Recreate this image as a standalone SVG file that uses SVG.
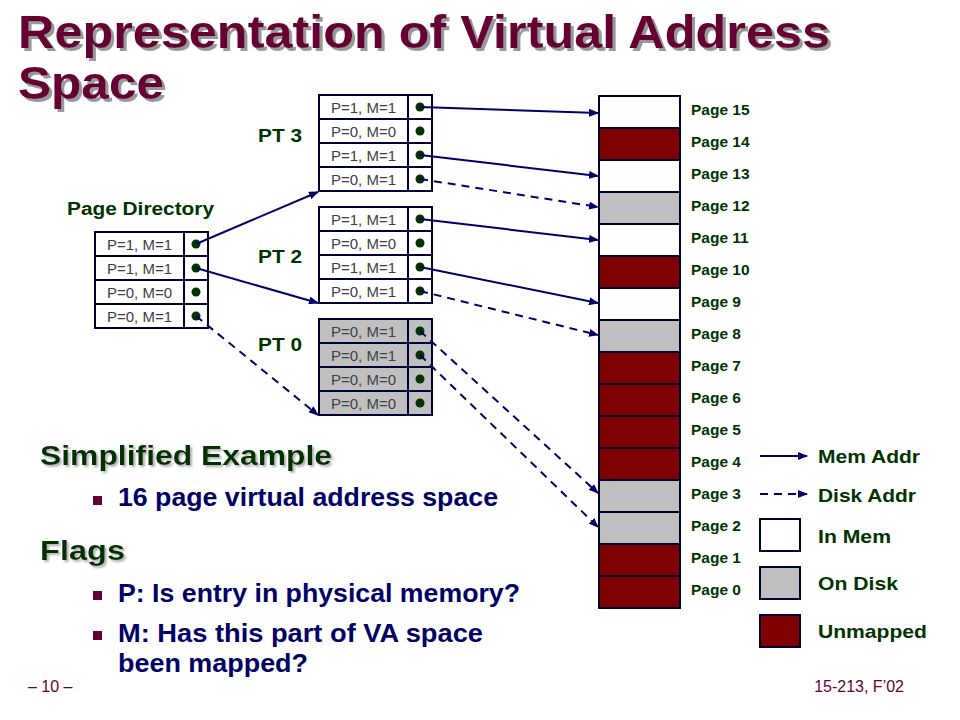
<svg xmlns="http://www.w3.org/2000/svg" width="960" height="720" viewBox="0 0 960 720">
<defs>
<style>
.title{font-family:"Liberation Sans",Arial,sans-serif;font-weight:bold;font-size:47px;fill:#660033}
.head{font-family:"Liberation Sans",Arial,sans-serif;font-weight:bold;font-size:27px;fill:#003300}
.bul{font-family:"Liberation Sans",Arial,sans-serif;font-weight:bold;font-size:25px;fill:#000066}
.lbl{font-family:"Liberation Sans",Arial,sans-serif;font-weight:bold;font-size:18px;fill:#003300}
.pg{font-family:"Liberation Sans",Arial,sans-serif;font-weight:bold;font-size:15.5px;fill:#003300}
.leg{font-family:"Liberation Sans",Arial,sans-serif;font-weight:bold;font-size:19px;fill:#003300}
.cell{font-family:"Liberation Sans",Arial,sans-serif;font-size:15px;fill:#404040;text-anchor:middle}
.foot{font-family:"Liberation Sans",Arial,sans-serif;font-size:16px;fill:#660033}
.box{fill:#ffffff;stroke:#000033;stroke-width:2}
.gbox{fill:#c0c0c0;stroke:#000033;stroke-width:2}
.rbox{fill:#800000;stroke:#000033;stroke-width:2}
.dot{fill:#003300}
.sq{fill:#660033}
.conn{fill:none;stroke:#000066;stroke-width:2}
.dash{stroke-dasharray:8 6}
</style>
<marker id="ah" markerWidth="10" markerHeight="8" refX="9" refY="4" orient="auto" markerUnits="userSpaceOnUse">
<path d="M0,0 L10,4 L0,8 z" fill="#000066"/>
</marker>
<filter id="sh" x="-5%" y="-20%" width="110%" height="140%">
<feDropShadow dx="3" dy="3" stdDeviation="0.6" flood-color="#999999" flood-opacity="1"/>
</filter>
<filter id="sh2" x="-5%" y="-20%" width="110%" height="140%">
<feDropShadow dx="2" dy="2" stdDeviation="0.8" flood-color="#b0b0b0" flood-opacity="1"/>
</filter>
</defs>
<rect width="960" height="720" fill="#ffffff"/>

<g id="title" filter="url(#sh)">
<text class="title" x="18" y="48" textLength="812" lengthAdjust="spacingAndGlyphs">Representation of Virtual Address</text>
<text class="title" x="18" y="99" textLength="146" lengthAdjust="spacingAndGlyphs">Space</text>
</g>

<g id="page-directory">
<text class="lbl" x="67" y="215" textLength="147" lengthAdjust="spacingAndGlyphs">Page Directory</text>
<rect class="box" x="95" y="232" width="113" height="96"/>
<line x1="95" y1="256" x2="208" y2="256" stroke="#000033" stroke-width="2"/>
<line x1="95" y1="280" x2="208" y2="280" stroke="#000033" stroke-width="2"/>
<line x1="95" y1="304" x2="208" y2="304" stroke="#000033" stroke-width="2"/>
<line x1="184" y1="232" x2="184" y2="328" stroke="#000033" stroke-width="2"/>
<text class="cell" x="139.5" y="249.5">P=1, M=1</text>
<text class="cell" x="139.5" y="273.5">P=1, M=1</text>
<text class="cell" x="139.5" y="297.5">P=0, M=0</text>
<text class="cell" x="139.5" y="321.5">P=0, M=1</text>
<circle class="dot" cx="196" cy="244" r="4.5"/>
<circle class="dot" cx="196" cy="268" r="4.5"/>
<circle class="dot" cx="196" cy="292" r="4.5"/>
<circle class="dot" cx="196" cy="316" r="4.5"/>
</g>

<g id="pt3">
<text class="lbl" x="258" y="142" textLength="44" lengthAdjust="spacingAndGlyphs">PT 3</text>
<rect class="box" x="319" y="95" width="113" height="96"/>
<line x1="319" y1="119" x2="432" y2="119" stroke="#000033" stroke-width="2"/>
<line x1="319" y1="143" x2="432" y2="143" stroke="#000033" stroke-width="2"/>
<line x1="319" y1="167" x2="432" y2="167" stroke="#000033" stroke-width="2"/>
<line x1="408" y1="95" x2="408" y2="191" stroke="#000033" stroke-width="2"/>
<text class="cell" x="363.5" y="112.5">P=1, M=1</text>
<text class="cell" x="363.5" y="136.5">P=0, M=0</text>
<text class="cell" x="363.5" y="160.5">P=1, M=1</text>
<text class="cell" x="363.5" y="184.5">P=0, M=1</text>
<circle class="dot" cx="420" cy="107" r="4.5"/>
<circle class="dot" cx="420" cy="131" r="4.5"/>
<circle class="dot" cx="420" cy="155" r="4.5"/>
<circle class="dot" cx="420" cy="179" r="4.5"/>
</g>

<g id="pt2">
<text class="lbl" x="258" y="263" textLength="44" lengthAdjust="spacingAndGlyphs">PT 2</text>
<rect class="box" x="319" y="207" width="113" height="96"/>
<line x1="319" y1="231" x2="432" y2="231" stroke="#000033" stroke-width="2"/>
<line x1="319" y1="255" x2="432" y2="255" stroke="#000033" stroke-width="2"/>
<line x1="319" y1="279" x2="432" y2="279" stroke="#000033" stroke-width="2"/>
<line x1="408" y1="207" x2="408" y2="303" stroke="#000033" stroke-width="2"/>
<text class="cell" x="363.5" y="224.5">P=1, M=1</text>
<text class="cell" x="363.5" y="248.5">P=0, M=0</text>
<text class="cell" x="363.5" y="272.5">P=1, M=1</text>
<text class="cell" x="363.5" y="296.5">P=0, M=1</text>
<circle class="dot" cx="420" cy="219" r="4.5"/>
<circle class="dot" cx="420" cy="243" r="4.5"/>
<circle class="dot" cx="420" cy="267" r="4.5"/>
<circle class="dot" cx="420" cy="291" r="4.5"/>
</g>

<g id="pt0">
<text class="lbl" x="258" y="351" textLength="44" lengthAdjust="spacingAndGlyphs">PT 0</text>
<rect class="gbox" x="319" y="319" width="113" height="96"/>
<line x1="319" y1="343" x2="432" y2="343" stroke="#000033" stroke-width="2"/>
<line x1="319" y1="367" x2="432" y2="367" stroke="#000033" stroke-width="2"/>
<line x1="319" y1="391" x2="432" y2="391" stroke="#000033" stroke-width="2"/>
<line x1="408" y1="319" x2="408" y2="415" stroke="#000033" stroke-width="2"/>
<text class="cell" x="363.5" y="336.5">P=0, M=1</text>
<text class="cell" x="363.5" y="360.5">P=0, M=1</text>
<text class="cell" x="363.5" y="384.5">P=0, M=0</text>
<text class="cell" x="363.5" y="408.5">P=0, M=0</text>
<circle class="dot" cx="420" cy="331" r="4.5"/>
<circle class="dot" cx="420" cy="355" r="4.5"/>
<circle class="dot" cx="420" cy="379" r="4.5"/>
<circle class="dot" cx="420" cy="403" r="4.5"/>
</g>

<g id="pages">
<rect class="box" x="599" y="96" width="81" height="32"/>
<rect class="rbox" x="599" y="128" width="81" height="32"/>
<rect class="box" x="599" y="160" width="81" height="32"/>
<rect class="gbox" x="599" y="192" width="81" height="32"/>
<rect class="box" x="599" y="224" width="81" height="32"/>
<rect class="rbox" x="599" y="256" width="81" height="32"/>
<rect class="box" x="599" y="288" width="81" height="32"/>
<rect class="gbox" x="599" y="320" width="81" height="32"/>
<rect class="rbox" x="599" y="352" width="81" height="32"/>
<rect class="rbox" x="599" y="384" width="81" height="32"/>
<rect class="rbox" x="599" y="416" width="81" height="32"/>
<rect class="rbox" x="599" y="448" width="81" height="32"/>
<rect class="gbox" x="599" y="480" width="81" height="32"/>
<rect class="gbox" x="599" y="512" width="81" height="32"/>
<rect class="rbox" x="599" y="544" width="81" height="32"/>
<rect class="rbox" x="599" y="576" width="81" height="32"/>
<text class="pg" x="691" y="115">Page 15</text>
<text class="pg" x="691" y="147">Page 14</text>
<text class="pg" x="691" y="179">Page 13</text>
<text class="pg" x="691" y="211">Page 12</text>
<text class="pg" x="691" y="243">Page 11</text>
<text class="pg" x="691" y="275">Page 10</text>
<text class="pg" x="691" y="307">Page 9</text>
<text class="pg" x="691" y="339">Page 8</text>
<text class="pg" x="691" y="371">Page 7</text>
<text class="pg" x="691" y="403">Page 6</text>
<text class="pg" x="691" y="435">Page 5</text>
<text class="pg" x="691" y="467">Page 4</text>
<text class="pg" x="691" y="499">Page 3</text>
<text class="pg" x="691" y="531">Page 2</text>
<text class="pg" x="691" y="563">Page 1</text>
<text class="pg" x="691" y="595">Page 0</text>
</g>

<g id="connectors">
<line class="conn" x1="196" y1="244" x2="318" y2="192" marker-end="url(#ah)"/>
<line class="conn" x1="196" y1="268" x2="318" y2="303" marker-end="url(#ah)"/>
<line class="conn dash" x1="196" y1="316" x2="318" y2="415" marker-end="url(#ah)"/>
<line class="conn" x1="420" y1="107" x2="598" y2="113" marker-end="url(#ah)"/>
<line class="conn" x1="420" y1="155" x2="598" y2="176" marker-end="url(#ah)"/>
<line class="conn dash" x1="420" y1="179" x2="598" y2="207" marker-end="url(#ah)"/>
<line class="conn" x1="420" y1="219" x2="598" y2="240" marker-end="url(#ah)"/>
<line class="conn" x1="420" y1="267" x2="598" y2="303" marker-end="url(#ah)"/>
<line class="conn dash" x1="420" y1="291" x2="598" y2="335" marker-end="url(#ah)"/>
<line class="conn dash" x1="420" y1="331" x2="598" y2="493" marker-end="url(#ah)"/>
<line class="conn dash" x1="420" y1="355" x2="598" y2="527" marker-end="url(#ah)"/>
</g>

<g id="legend">
<line class="conn" x1="760" y1="456" x2="807" y2="456" marker-end="url(#ah)"/>
<line class="conn dash" x1="760" y1="494" x2="807" y2="494" marker-end="url(#ah)"/>
<rect class="box" x="760" y="519" width="40" height="32"/>
<rect class="gbox" x="760" y="567" width="40" height="32"/>
<rect class="rbox" x="760" y="615" width="40" height="32"/>
<text class="leg" x="818" y="463" textLength="102" lengthAdjust="spacingAndGlyphs">Mem Addr</text>
<text class="leg" x="818" y="502" textLength="98" lengthAdjust="spacingAndGlyphs">Disk Addr</text>
<text class="leg" x="818" y="543" textLength="73" lengthAdjust="spacingAndGlyphs">In Mem</text>
<text class="leg" x="818" y="590" textLength="80" lengthAdjust="spacingAndGlyphs">On Disk</text>
<text class="leg" x="818" y="638" textLength="109" lengthAdjust="spacingAndGlyphs">Unmapped</text>
</g>

<g id="text-body">
<text class="head" x="40" y="465" filter="url(#sh2)" textLength="292" lengthAdjust="spacingAndGlyphs">Simplified Example</text>
<rect class="sq" x="93" y="496" width="9" height="9"/>
<text class="bul" x="118" y="506" textLength="380" lengthAdjust="spacingAndGlyphs">16 page virtual address space</text>
<text class="head" x="40" y="560" filter="url(#sh2)" textLength="85" lengthAdjust="spacingAndGlyphs">Flags</text>
<rect class="sq" x="93" y="591" width="9" height="9"/>
<text class="bul" x="118" y="602" textLength="402" lengthAdjust="spacingAndGlyphs">P: Is entry in physical memory?</text>
<rect class="sq" x="93" y="631" width="9" height="9"/>
<text class="bul" x="118" y="642" textLength="365" lengthAdjust="spacingAndGlyphs">M: Has this part of VA space</text>
<text class="bul" x="118" y="672" textLength="190" lengthAdjust="spacingAndGlyphs">been mapped?</text>
</g>

<g id="footer">
<text class="foot" x="28" y="692">– 10 –</text>
<text class="foot" x="904" y="692" text-anchor="end">15-213, F’02</text>
</g>
</svg>
